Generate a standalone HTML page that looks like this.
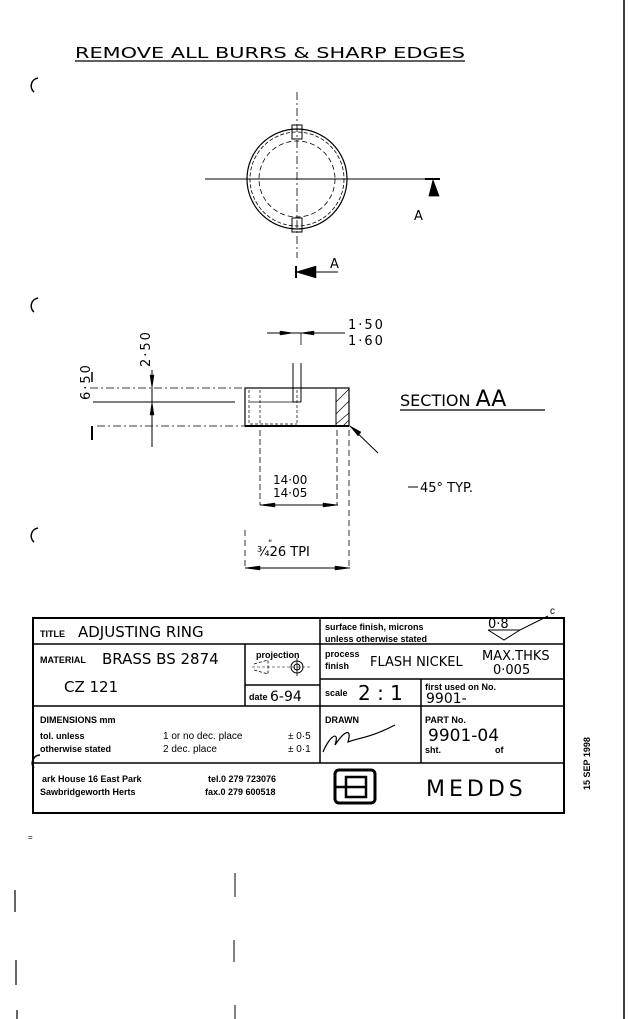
<!DOCTYPE html>
<html><head><meta charset="utf-8"><style>
html,body{margin:0;padding:0;background:#fff;}
svg{display:block}
text{font-family:"Liberation Sans",sans-serif;fill:#000}
.h{font-family:"DejaVu Sans",sans-serif;font-weight:normal}
.b{font-weight:bold;font-size:9px}
</style></head><body>
<svg width="630" height="1019" viewBox="0 0 630 1019" xmlns="http://www.w3.org/2000/svg">
<g stroke="#000" fill="none">
<!-- right margin line -->
<line x1="624" y1="0" x2="624" y2="1019" stroke-width="1.5"/>
<!-- punch hole marks -->
<path d="M38 78 A8 8 0 0 0 34 92" stroke-width="1.5"/>
<path d="M38 298 A8 8 0 0 0 34 312" stroke-width="1.5"/>
<path d="M38 528 A8 8 0 0 0 34 542" stroke-width="1.5"/>
<path d="M40 755 A8 8 0 0 0 34 768" stroke-width="1.5"/>
<!-- heading underline -->
<line x1="75" y1="61" x2="465" y2="61" stroke-width="1.2"/>
<!-- top view circle -->
<circle cx="297" cy="179" r="50" stroke-width="1.2"/>
<circle cx="297" cy="179" r="47" stroke-width="0.8" stroke-dasharray="4 2"/>
<circle cx="297" cy="179" r="38" stroke-width="0.8" stroke-dasharray="5 3"/>
<line x1="297" y1="92" x2="297" y2="258" stroke-width="0.8" stroke-dasharray="8 3 2 3"/>
<line x1="205" y1="179" x2="440" y2="179" stroke-width="1"/>
<rect x="292" y="125" width="10" height="14" stroke-width="1"/>
<rect x="292" y="218" width="10" height="14" stroke-width="1"/>
<line x1="425" y1="179" x2="440" y2="179" stroke-width="2"/>
<path d="M433 180 L429 196 L439 196 Z" fill="#000" stroke-width="0.8"/>
<line x1="310" y1="272" x2="338" y2="272" stroke-width="1"/>
<path d="M296 272 L316 266 L316 278 Z" fill="#000" stroke-width="0.5"/>
<line x1="296" y1="266" x2="296" y2="278" stroke-width="2"/>
<!-- section -->
<rect x="245" y="388" width="104" height="38" stroke-width="1.2"/>
<line x1="249" y1="390" x2="249" y2="424" stroke-width="0.7" stroke-dasharray="3 2"/>
<line x1="260" y1="390" x2="260" y2="424" stroke-width="0.7" stroke-dasharray="3 2"/>
<line x1="297" y1="390" x2="297" y2="424" stroke-width="0.7" stroke-dasharray="3 2"/>
<line x1="250" y1="402" x2="297" y2="402" stroke-width="0.7"/>
<line x1="250" y1="424" x2="297" y2="424" stroke-width="0.7" stroke-dasharray="3 2"/>
<line x1="336" y1="388" x2="336" y2="426" stroke-width="1"/>
<path d="M336 402 L349 389 M336 414 L349 401 M336 424 L349 413 M343 426 L349 420" stroke-width="0.7"/>
<line x1="293" y1="363" x2="293" y2="402" stroke-width="1"/>
<line x1="301" y1="363" x2="301" y2="402" stroke-width="1"/>
<line x1="293" y1="402" x2="301" y2="402" stroke-width="1"/>
<line x1="245" y1="426" x2="349" y2="426" stroke-width="2"/>
<!-- left dims -->
<line x1="90" y1="388" x2="245" y2="388" stroke-width="0.8" stroke-dasharray="8 3 2 3"/>
<line x1="93" y1="402" x2="235" y2="402" stroke-width="1"/>
<line x1="97" y1="426" x2="245" y2="426" stroke-width="0.8" stroke-dasharray="8 3 2 3"/>
<line x1="92" y1="372" x2="92" y2="382" stroke-width="1.5"/>
<line x1="92" y1="426" x2="92" y2="440" stroke-width="2"/>
<line x1="152" y1="370" x2="152" y2="447" stroke-width="1"/>
<path d="M152 388 L150 375 L154 375 Z M152 402 L150 415 L154 415 Z" fill="#000" stroke-width="0.5"/>
<!-- 1.50 dim -->
<line x1="267" y1="333" x2="345" y2="333" stroke-width="1"/>
<path d="M293 333 L280 331 L280 335 Z M301 333 L314 331 L314 335 Z" fill="#000" stroke-width="0.5"/>
<line x1="301" y1="333" x2="301" y2="345" stroke-width="0.8"/>
<!-- 14.00 dims -->
<line x1="260" y1="430" x2="260" y2="505" stroke-width="0.8" stroke-dasharray="6 3"/>
<line x1="337" y1="430" x2="337" y2="505" stroke-width="0.8" stroke-dasharray="6 3"/>
<line x1="349" y1="430" x2="349" y2="570" stroke-width="0.8" stroke-dasharray="6 4"/>
<line x1="245" y1="530" x2="245" y2="570" stroke-width="0.8" stroke-dasharray="6 4"/>
<line x1="260" y1="505" x2="338" y2="505" stroke-width="1"/>
<path d="M260 505 L275 503 L275 507 Z M338 505 L323 503 L323 507 Z" fill="#000" stroke-width="0.5"/>
<line x1="245" y1="568" x2="350" y2="568" stroke-width="1"/>
<path d="M245 568 L260 566 L260 570 Z M350 568 L335 566 L335 570 Z" fill="#000" stroke-width="0.5"/>
<!-- chamfer leader -->
<line x1="350" y1="426" x2="378" y2="453" stroke-width="1"/>
<path d="M350 426 L358 436 L361 432 Z" fill="#000" stroke-width="0.5"/>
<line x1="400" y1="410" x2="545" y2="410" stroke-width="1.2"/>
<line x1="408" y1="487" x2="418" y2="487" stroke-width="1"/>
<!-- title block -->
<rect x="33" y="618" width="531" height="195" stroke-width="2"/>
<line x1="33" y1="644" x2="564" y2="644" stroke-width="1.5"/>
<line x1="33" y1="706" x2="564" y2="706" stroke-width="1.5"/>
<line x1="33" y1="763" x2="564" y2="763" stroke-width="1.5"/>
<line x1="320" y1="618" x2="320" y2="763" stroke-width="1.5"/>
<line x1="245" y1="644" x2="245" y2="706" stroke-width="1.5"/>
<line x1="245" y1="685" x2="320" y2="685" stroke-width="1.5"/>
<line x1="320" y1="679" x2="564" y2="679" stroke-width="1.5"/>
<line x1="421" y1="679" x2="421" y2="763" stroke-width="1.5"/>
<path d="M488 630 L520 630 L548 616 M488 630 L504 640 L520 630" stroke-width="1"/>
<!-- projection symbol -->
<path d="M254 664 L268 660 L268 674 L254 670" stroke-width="0.8" stroke-dasharray="3 2"/>
<line x1="252" y1="667" x2="310" y2="667" stroke-width="0.6" stroke-dasharray="3 2"/>
<circle cx="297" cy="667" r="6" stroke-width="1"/>
<circle cx="297" cy="667" r="3" stroke-width="1"/>
<line x1="297" y1="658" x2="297" y2="676" stroke-width="0.8"/>
<!-- signature -->
<path d="M323 752 C330 735 340 730 335 745 C345 730 352 728 348 742 C358 738 370 738 395 725" stroke-width="1.2"/>
<!-- logo -->
<rect x="335" y="770" width="40" height="33" rx="4" stroke-width="3"/>
<rect x="346" y="777" width="20" height="20" stroke-width="2.5"/>
<line x1="335" y1="787" x2="366" y2="787" stroke-width="2.5"/>
<!-- bottom marks -->
<line x1="235" y1="873" x2="235" y2="897" stroke-width="1"/>
<line x1="234" y1="940" x2="234" y2="962" stroke-width="1"/>
<line x1="235" y1="1005" x2="235" y2="1019" stroke-width="1"/>
<line x1="15" y1="890" x2="15" y2="912" stroke-width="1.2"/>
<line x1="16" y1="960" x2="16" y2="985" stroke-width="1.2"/>
<line x1="17" y1="1010" x2="17" y2="1019" stroke-width="1.2"/>
</g>
<!-- texts -->
<text x="75" y="58" class="h" font-size="15" textLength="390" lengthAdjust="spacingAndGlyphs">REMOVE ALL BURRS &amp; SHARP EDGES</text>
<text x="414" y="220" class="h" font-size="13">A</text>
<text x="330" y="268" class="h" font-size="13">A</text>
<text x="348" y="329" class="h" font-size="13" letter-spacing="2">1·50</text>
<text x="348" y="345" class="h" font-size="13" letter-spacing="2">1·60</text>
<text transform="translate(150,367) rotate(-90)" class="h" font-size="13" letter-spacing="2">2·50</text>
<text transform="translate(90,400) rotate(-90)" class="h" font-size="13" letter-spacing="2">6·50</text>
<text x="400" y="406" class="h" font-size="16">SECTION <tspan font-size="22">AA</tspan></text>
<text x="273" y="484" class="h" font-size="12">14·00</text>
<text x="273" y="497" class="h" font-size="12">14·05</text>
<text x="420" y="492" class="h" font-size="13">45° TYP.</text>
<text x="257" y="556" class="h" font-size="13">¾26 TPI</text>
<text x="268" y="546" class="h" font-size="9">"</text>
<text x="550" y="614" font-size="10">c</text>
<text x="40" y="637" class="b">TITLE</text>
<text x="78" y="637" class="h" font-size="15">ADJUSTING RING</text>
<text x="325" y="630" class="b">surface finish, microns</text>
<text x="325" y="642" class="b">unless otherwise stated</text>
<text x="488" y="628" class="h" font-size="13">0·8</text>
<text x="40" y="663" class="b">MATERIAL</text>
<text x="102" y="664" class="h" font-size="15">BRASS BS 2874</text>
<text x="64" y="692" class="h" font-size="15">CZ 121</text>
<text x="256" y="658" class="b">projection</text>
<text x="249" y="700" class="b">date</text>
<text x="270" y="701" class="h" font-size="14">6-94</text>
<text x="325" y="657" class="b">process</text>
<text x="325" y="669" class="b">finish</text>
<text x="370" y="666" class="h" font-size="13">FLASH NICKEL</text>
<text x="482" y="660" class="h" font-size="13">MAX.THKS</text>
<text x="493" y="674" class="h" font-size="13">0·005</text>
<text x="325" y="696" class="b">scale</text>
<text x="358" y="700" class="h" font-size="20">2 : 1</text>
<text x="425" y="690" class="b">first used on No.</text>
<text x="426" y="703" class="h" font-size="14">9901-</text>
<text x="40" y="723" class="b">DIMENSIONS mm</text>
<text x="40" y="739" class="b">tol. unless</text>
<text x="40" y="752" class="b">otherwise stated</text>
<text x="163" y="739" font-size="10">1 or no dec. place</text>
<text x="163" y="752" font-size="10">2 dec. place</text>
<text x="288" y="739" font-size="10">± 0·5</text>
<text x="288" y="752" font-size="10">± 0·1</text>
<text x="325" y="723" class="b">DRAWN</text>
<text x="425" y="723" class="b">PART No.</text>
<text x="428" y="741" class="h" font-size="17">9901-04</text>
<text x="425" y="753" class="b">sht.</text>
<text x="495" y="753" class="b">of</text>
<text x="42" y="782" class="b">ark House 16 East Park</text>
<text x="208" y="782" class="b">tel.0 279 723076</text>
<text x="40" y="795" class="b">Sawbridgeworth Herts</text>
<text x="205" y="795" class="b">fax.0 279 600518</text>
<text x="426" y="796" class="h" font-size="22" letter-spacing="4">MEDDS</text>
<text transform="translate(590,790) rotate(-90)" font-size="9" font-weight="bold">15 SEP 1998</text>
<text x="28" y="840" font-size="8">=</text>
</svg>
</body></html>
